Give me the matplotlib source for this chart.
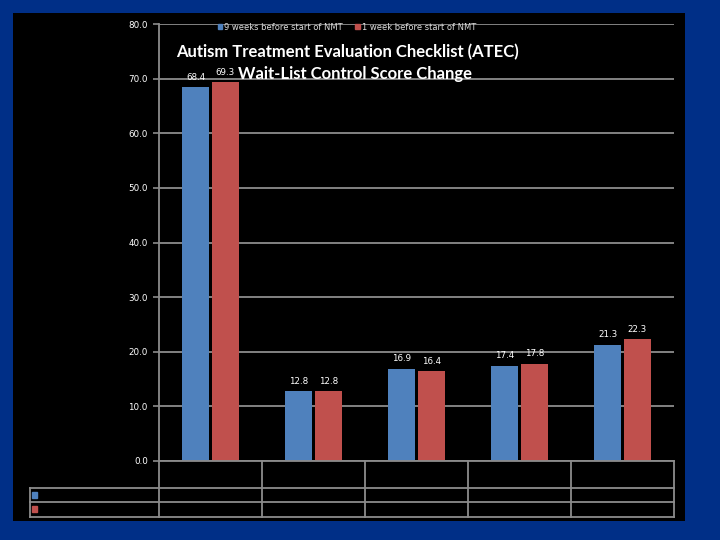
import numpy as np
import matplotlib
matplotlib.use('Agg')
import matplotlib.pyplot as plt
from matplotlib.lines import Line2D
from matplotlib.patches import Rectangle
import matplotlib.transforms as mtransforms

# data
series_names = ['9 weeks before start of NMT', '1 week before start of NMT']
weeks9 = [68.4, 12.8, 16.9, 17.4, 21.3]
week1 = [69.3, 12.8, 16.4, 17.8, 22.3]
categories = ['', '', '', '', '']
yticks = [0, 10, 20, 30, 40, 50, 60, 70, 80]

blue = '#4F81BD'
red = '#C0504D'
grid_c = '#8C8C8C'
W, H = 720, 540

fig = plt.figure(figsize=(7.2, 5.4), dpi=100)
fig.patch.set_facecolor('#002F87')

# black panel behind the chart
fig.add_artist(Rectangle((13 / W, 1 - 521 / H), 672 / W, 508 / H,
                         transform=fig.transFigure, facecolor='black',
                         edgecolor='none', zorder=0))

ax = fig.add_axes([159 / W, 1 - 461 / H, 515 / W, 437 / H])
ax.set_facecolor('black')
ax.set_zorder(2)

x = np.arange(len(weeks9))
bw = 0.27
b1 = ax.bar(x - 0.145, weeks9, bw, color=blue, zorder=3)
b2 = ax.bar(x + 0.145, week1, bw, color=red, zorder=3)

for bars, vals in ((b1, weeks9), (b2, week1)):
    for b, v in zip(bars, vals):
        ax.annotate('%.1f' % v, (b.get_x() + b.get_width() / 2, v),
                    xytext=(0, 4), textcoords='offset points',
                    ha='center', va='bottom', color='white', fontsize=6.3)

ax.set_xlim(-0.5, len(x) - 0.5)
ax.set_ylim(0, 80)
ax.set_yticks(yticks)
ax.set_yticklabels(['%.1f' % t for t in yticks], color='white', fontsize=6.3)
ax.set_xticks([])
ax.yaxis.grid(True, color=grid_c, lw=1.3)
ax.set_axisbelow(True)
ax.tick_params(axis='y', length=4, width=1.2, color=grid_c, pad=4)
for s in ['top', 'right', 'bottom']:
    ax.spines[s].set_visible(False)
ax.spines['left'].set_color(grid_c)
ax.spines['left'].set_linewidth(1.3)

# title
fig.text(347 / W, 1 - 52 / H, 'Autism Treatment Evaluation Checklist (ATEC)',
         ha='center', va='center', color='white', fontsize=12,
         fontweight='bold', family='Lato', zorder=5)
fig.text(355 / W, 1 - 74 / H, 'Wait-List Control Score Change',
         ha='center', va='center', color='white', fontsize=12,
         fontweight='bold', family='Lato', zorder=5)

# legend
handles = [Rectangle((0, 0), 1, 1, color=blue), Rectangle((0, 0), 1, 1, color=red)]
leg = fig.legend(handles, series_names, loc='center', ncol=2,
                 bbox_to_anchor=(347 / W, 1 - 27 / H), frameon=False,
                 fontsize=6, handlelength=0.5, handleheight=0.5,
                 handletextpad=0.3, columnspacing=1.5, labelcolor='#DDDDDD')

# data table under the axis
tr = mtransforms.blended_transform_factory(ax.transData, fig.transFigure)
row_y = [461, 488, 502, 517]
lw = 1.3
for k in range(len(x) + 1):
    fig.add_artist(Line2D([k - 0.5, k - 0.5], [1 - 461 / H, 1 - 517 / H],
                          transform=tr, color=grid_c, lw=lw, zorder=3))
for py in row_y:
    fig.add_artist(Line2D([159 / W if py == 461 else 30 / W, 674 / W],
                          [1 - py / H, 1 - py / H], transform=fig.transFigure,
                          color=grid_c, lw=lw, zorder=3))
fig.add_artist(Line2D([30 / W, 30 / W], [1 - 488 / H, 1 - 517 / H],
                      transform=fig.transFigure, color=grid_c, lw=lw, zorder=3))
for py, c in ((495, blue), (509, red)):
    fig.add_artist(Rectangle((32 / W, 1 - (py + 3) / H), 5 / W, 6 / H,
                             transform=fig.transFigure, color=c, zorder=4))

fig.savefig('out.png', dpi=100, facecolor=fig.get_facecolor())
